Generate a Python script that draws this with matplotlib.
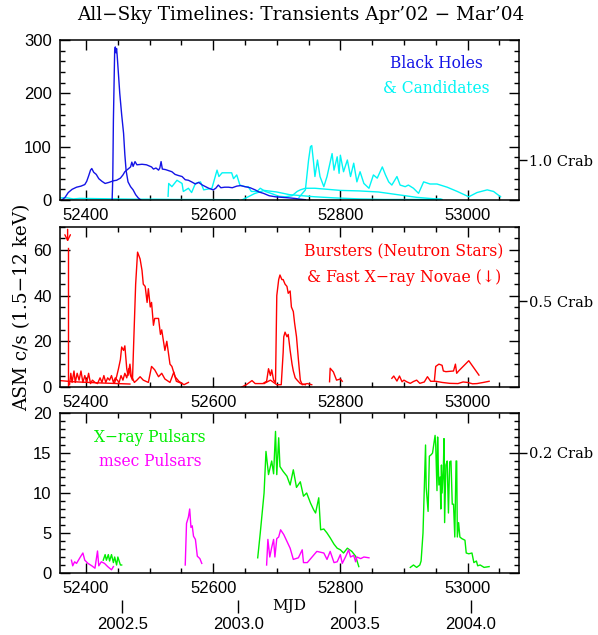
import numpy as np
import matplotlib.pyplot as plt
from matplotlib.ticker import MultipleLocator

# ---- black holes & candidates (top panel), MJD / ASM c/s
bh1_t = [52362, 52367, 52372, 52378, 52385, 52392, 52398, 52401, 52404, 52407, 52409, 52412,
         52416, 52420, 52425, 52430, 52436, 52443, 52448, 52454, 52458, 52461, 52466, 52470,
         52472, 52474, 52477, 52480, 52488, 52495, 52503, 52506, 52510, 52514, 52516, 52518,
         52520, 52525, 52530, 52535, 52540, 52545, 52551, 52556, 52561, 52566, 52572, 52577,
         52583, 52588, 52593, 52600, 52604, 52608, 52612, 52618, 52624, 52630, 52637, 52643,
         52650, 52658, 52666, 52672, 52679, 52688, 52698, 52708, 52719, 52728, 52737, 52745]
bh1_v = [0, 5, 14, 20, 24, 26, 29, 35, 45, 56, 59, 52,
         48, 40, 35, 31, 33, 36, 37, 41, 47, 53, 58, 62,
         71, 63, 72, 66, 67, 66, 62, 58, 60, 56, 60, 72,
         58, 57, 55, 53, 48, 46, 44, 38, 37, 34, 30, 33,
         28, 25, 22, 19, 22, 28, 23, 24, 24, 23, 26, 27,
         25, 23, 19, 15, 12.5, 8, 6, 5, 4, 3, 1.5, 0.5]

bh2_t = [52441, 52442, 52443, 52445, 52446, 52447, 52448, 52449, 52451, 52453, 52456, 52459,
         52461, 52463, 52466, 52470, 52474, 52478, 52482, 52486]
bh2_v = [0, 40, 150, 280, 287, 276, 284, 270, 235, 200, 160, 125,
         85, 55, 34, 25, 19, 10, 4, 0]

cand0_t = [52360, 52370, 52380, 52390, 52420, 52450, 52480, 52510, 52540, 52570, 52600, 52640]
cand0_v = [4, 4, 2, 3, 2.5, 2, 1.5, 1.5, 1, 1, 0.8, 0.5]

cand1_t = [52529, 52530, 52535, 52543, 52551, 52553, 52561, 52566, 52572, 52580, 52585, 52598,
           52606, 52609, 52614, 52629, 52632, 52637, 52642, 52650, 52655, 52660, 52669, 52674,
           52682, 52692, 52703, 52713, 52724, 52732, 52737, 52745, 52760, 52780, 52800, 52830,
           52860, 52890, 52920, 52950, 52958]
cand1_v = [7, 31, 25, 37, 31, 16, 22, 14, 31, 34, 19, 22,
           56, 44, 51, 51, 40, 47, 28, 25, 25, 16, 16, 22,
           16, 12, 7, 6, 8, 16, 19, 22, 22, 20, 18, 17,
           15, 10, 5, 2, 2]

cand2_t = [52645, 52655, 52665, 52680, 52700, 52720, 52740, 52760, 52790, 52830, 52870, 52920, 52960]
cand2_v = [0, 6, 12, 18, 15, 10, 8, 6, 4, 2, 1, 1, 1]

cand3_t = [52735, 52745, 52750, 52753, 52755, 52758, 52760, 52764, 52768, 52774, 52779, 52787,
           52790, 52795, 52798, 52800, 52805, 52811, 52816, 52821, 52826, 52831, 52837, 52845,
           52852, 52858, 52866, 52871, 52876, 52881, 52889, 52894, 52902, 52907, 52915, 52923,
           52931, 52941, 52952, 52968, 52984, 53002, 53015, 53031, 53041, 53052]
cand3_v = [5, 19, 75, 100, 102, 69, 44, 75, 44, 25, 44, 87,
           56, 81, 50, 84, 53, 75, 44, 69, 34, 53, 31, 22,
           47, 41, 62, 47, 34, 28, 44, 28, 25, 28, 22, 12.5,
           34, 30, 30, 24, 16, 6, 14, 19, 16, 6]

# ---- bursters & fast novae (middle panel)
nova_t = [52371, 52371]
nova_v = [0, 61]

ns_low_t = [52359, 52380, 52420, 52469]
ns_low_v = [2.8, 2.3, 1.8, 1.3]

ns1_t = [52374, 52376, 52378, 52381, 52383, 52386, 52389, 52392, 52395, 52398, 52401, 52404,
         52407, 52410, 52414, 52418, 52422, 52425, 52428, 52431, 52434, 52437, 52440, 52443,
         52446, 52449, 52452, 52455, 52458, 52461, 52464, 52467, 52470, 52473, 52475, 52478,
         52481, 52485, 52488, 52490, 52493, 52496, 52498, 52501, 52503, 52506, 52508, 52514,
         52517, 52519, 52524, 52527, 52532, 52535, 52540, 52546, 52554, 52561]
ns1_v = [1, 6, 2, 7, 2, 6, 3, 7, 2, 5, 2, 6,
         1.5, 3, 2, 1.5, 4, 2, 5, 2, 4, 3, 5, 2,
         4, 3, 2, 5, 3, 6, 4, 8, 5, 3, 20, 45,
         59, 56, 51, 45, 44, 37, 43, 35, 37, 27, 30, 30,
         23, 25, 16, 20, 10, 9, 4.5, 2.5, 1, 2]

ns2_t = [52445, 52448, 52451, 52454, 52456, 52459, 52461, 52464, 52466, 52469, 52471, 52476,
         52480, 52485, 52490, 52498, 52503, 52508, 52514, 52519, 52524, 52532, 52538, 52542,
         52551]
ns2_v = [2, 4.5, 8, 12, 17.5, 16, 18, 8, 5, 10, 5, 2,
         3, 4.5, 3, 2, 9, 7.5, 4.5, 6, 3.5, 2, 6.5, 2.5,
         1.5]

ns3_t = [52645, 52652, 52661, 52666, 52671, 52678, 52684, 52687, 52690, 52692, 52695, 52698,
         52700, 52703, 52705, 52708, 52710, 52713, 52716, 52718, 52721, 52723, 52726, 52728,
         52731, 52734, 52737, 52740, 52748, 52755]
ns3_v = [0, 1, 2.8, 1.5, 1.5, 1.5, 2.5, 8, 5, 7.5, 3, 2,
         40, 47, 49, 47, 47, 45, 44, 41, 42, 35, 33, 28,
         22, 12, 3, 1, 1.5, 1]

ns4_t = [52680, 52690, 52700, 52707, 52710, 52711, 52713, 52716, 52718, 52721, 52724, 52726,
         52729, 52732, 52737, 52745]
ns4_v = [1.5, 3, 1, 1, 15, 22, 24, 22, 23, 16, 10, 7,
         4, 3, 1.5, 1]

ns5_t = [52783, 52784, 52789, 52794, 52800, 52803]
ns5_v = [2.3, 8.2, 6.6, 3, 3.5, 2.5]

ns6_t = [52881, 52884, 52889, 52893, 52897, 52900, 52905, 52910, 52915, 52920, 52925, 52932,
         52937, 52942, 52950, 52960, 52972, 52985, 52993, 53000, 53008, 53015, 53025, 53034]
ns6_v = [3.8, 4.8, 2.6, 4.8, 2.3, 3, 2.2, 1.6, 2.4, 3, 1.6, 2.2,
         4.5, 2.5, 2.5, 2, 1.6, 1.5, 2.2, 2, 1.4, 1.5, 2, 2.5]

ns7_t = [52948, 52950, 52955, 52960, 52962, 52966, 52978, 52981, 52983, 52986, 53002, 53018]
ns7_v = [3, 9, 10, 9.5, 7, 6.7, 7, 10, 6, 7, 11.5, 5.2]

# ---- x-ray pulsars (green) and msec pulsars (magenta), bottom panel
xp1_t = [52427, 52430, 52432, 52435, 52437, 52440, 52443, 52445, 52448, 52450, 52454, 52456]
xp1_v = [1.6, 2.3, 1.6, 2.3, 1.5, 2.3, 1.3, 2, 1, 2, 1, 1]

xp2_t = [52670, 52674, 52680, 52683, 52687, 52692, 52695, 52698, 52700, 52703, 52705, 52710,
         52716, 52721, 52726, 52731, 52737, 52742, 52747, 52753, 52758, 52761, 52766, 52769,
         52774, 52779, 52784, 52790, 52795, 52800, 52805, 52811, 52818, 52824, 52829]
xp2_v = [1.9, 5, 10, 15.2, 12.3, 14, 12.4, 17.7, 12.3, 16.9, 13.3, 12.7,
         12.1, 11, 12.9, 10.7, 11.4, 9.6, 10, 8.75, 7.9, 7.5, 9.4, 5.4,
         5.5, 5, 4.4, 3.6, 3.1, 2.9, 2.5, 3.1, 2.7, 2.1, 0.8]

xp3_t = [52910, 52915, 52920, 52925, 52927, 52930, 52934, 52935, 52938, 52940, 52943, 52945,
         52949, 52950, 52952, 52953, 52954, 52955, 52957, 52958, 52959, 52960, 52962, 52963,
         52964, 52966, 52968, 52970, 52972, 52974, 52976, 52978, 52980, 52982, 52983, 52984,
         52986, 52988, 52991, 52996, 52998, 53002, 53007, 53010, 53014, 53016, 53020, 53026,
         53034]
xp3_v = [0.7, 1, 0.7, 1, 1.5, 5, 16, 10.7, 7.7, 14.6, 14.8, 15,
         17.2, 16, 10.3, 17, 13.4, 11, 12, 8, 13.5, 10, 12.9, 16.8,
         6.3, 13.5, 14, 7.5, 13.9, 14, 8.6, 8.6, 4.5, 14, 14, 4.5,
         6.3, 4.5, 4.3, 4.1, 2.5, 2.4, 2.5, 1.3, 1.5, 0.9, 1, 0.7,
         0.8]

ms1_t = [52377, 52379, 52382, 52385, 52391, 52395, 52398, 52403, 52409, 52414, 52418, 52420,
         52424, 52429, 52434, 52440, 52443]
ms1_v = [1.6, 0.9, 1.4, 1.2, 2, 2.5, 1.6, 1.2, 0.9, 0.6, 2.75, 0.9,
         1.4, 1.2, 0.8, 0.4, 0.8]

ms2_t = [52556, 52558, 52561, 52563, 52565, 52567, 52569, 52572, 52575, 52579, 52582]
ms2_v = [1, 6.2, 7, 8, 5.7, 5.9, 4.6, 4.2, 2.1, 1.8, 1.2]

ms3_t = [52684, 52686, 52689, 52692, 52695, 52697, 52700, 52703, 52706, 52711, 52721, 52726,
         52734, 52740, 52742, 52748, 52763, 52774, 52779, 52784, 52790, 52795, 52800, 52803,
         52808, 52813, 52816, 52821, 52824, 52826, 52832, 52837, 52845]
ms3_v = [1, 4.2, 2, 3.2, 4.2, 2, 4.3, 4.5, 5.4, 4.8, 3.1, 1.7,
         1.9, 2.9, 1.3, 1.3, 2.7, 2.5, 1.7, 2.7, 1.3, 1.4, 2.3, 1.2,
         2, 2.9, 2, 2.2, 1.4, 2, 1.8, 2, 1.9]

crab_cps = 75.0
crab_marks = [1.0, 0.5, 0.2]
year_ticks = [2002.5, 2003.0, 2003.5, 2004.0]

BLUE = '#1414e6'
CYAN = '#00f5f5'
RED = '#ff0000'
GREEN = '#00ee00'
MAGENTA = '#ff00ff'

SANS = 'Liberation Sans'
SERIF = 'DejaVu Serif'


def mjd2yr(m):
    return 2000.0 + (np.asarray(m) - 51544.0) / 365.25


def yr2mjd(y):
    return 51544.0 + (np.asarray(y) - 2000.0) * 365.25


def style_axes(ax, ymax, ymajor, yminor, crab):
    ax.set_xlim(52359, 53081)
    ax.set_ylim(0, ymax)
    ax.xaxis.set_major_locator(MultipleLocator(200))
    ax.xaxis.set_minor_locator(MultipleLocator(50))
    ax.yaxis.set_major_locator(MultipleLocator(ymajor))
    ax.yaxis.set_minor_locator(MultipleLocator(yminor))
    ax.tick_params(which='both', direction='in', top=True, right=True, width=1.0)
    ax.tick_params(which='major', length=7, labelsize=12, pad=6)
    ax.tick_params(which='minor', length=3.5)
    for lab in ax.get_xticklabels() + ax.get_yticklabels():
        lab.set_fontfamily(SANS)
    for sp in ax.spines.values():
        sp.set_linewidth(1.1)
    sec = ax.secondary_yaxis('right', functions=(lambda v: v / crab_cps, lambda c: c * crab_cps))
    sec.set_yticks([crab])
    sec.set_yticklabels(['%.1f Crab' % crab], fontfamily=SERIF, fontsize=10.5)
    sec.tick_params(direction='out', length=6, width=1.0, pad=1)
    sec.spines['right'].set_visible(False)


fig = plt.figure(figsize=(5.98, 6.35), dpi=100)
W = 459 / 598
H = 160 / 635
L = 60 / 598
ax1 = fig.add_axes([L, 435 / 635, W, H])
ax2 = fig.add_axes([L, 248 / 635, W, H])
ax3 = fig.add_axes([L, 62 / 635, W, H])

lw = 1.0
# top
ax1.plot(cand0_t, cand0_v, color=CYAN, lw=lw)
ax1.plot(cand1_t, cand1_v, color=CYAN, lw=lw)
ax1.plot(cand2_t, cand2_v, color=CYAN, lw=lw)
ax1.plot(cand3_t, cand3_v, color=CYAN, lw=lw)
ax1.plot(bh1_t, bh1_v, color=BLUE, lw=lw)
ax1.plot(bh2_t, bh2_v, color=BLUE, lw=lw)
style_axes(ax1, 300, 100, 20, crab_marks[0])
ax1.text(0.819, 0.85, 'Black Holes', color=BLUE, transform=ax1.transAxes,
         ha='center', va='center', fontsize=11.2, fontfamily=SERIF)
ax1.text(0.819, 0.694, '& Candidates', color=CYAN, transform=ax1.transAxes,
         ha='center', va='center', fontsize=11.2, fontfamily=SERIF)

# middle
for t, v in [(ns_low_t, ns_low_v), (ns1_t, ns1_v), (ns2_t, ns2_v), (ns3_t, ns3_v),
             (ns4_t, ns4_v), (ns5_t, ns5_v), (ns6_t, ns6_v), (ns7_t, ns7_v), (nova_t, nova_v)]:
    ax2.plot(t, v, color=RED, lw=lw)
ax2.annotate('', xy=(nova_t[-1], nova_v[-1] + 2.5), xytext=(nova_t[-1], nova_v[-1] + 8),
             arrowprops=dict(arrowstyle='->', color=RED, lw=1.0, shrinkA=0, shrinkB=0))
style_axes(ax2, 70, 20, 5, crab_marks[1])
ax2.text(0.749, 0.844, 'Bursters (Neutron Stars)', color=RED, transform=ax2.transAxes,
         ha='center', va='center', fontsize=11.3, fontfamily=SERIF)
ax2.text(0.749, 0.6875, '& Fast X\u2212ray Novae (\u2193)', color=RED, transform=ax2.transAxes,
         ha='center', va='center', fontsize=11.3, fontfamily=SERIF)
ax2.set_ylabel('ASM c/s (1.5\u221212 keV)', fontsize=13.3, fontfamily=SERIF, labelpad=1)

# bottom
ax3.plot(xp1_t, xp1_v, color=GREEN, lw=lw)
ax3.plot(xp2_t, xp2_v, color=GREEN, lw=lw)
ax3.plot(xp3_t, xp3_v, color=GREEN, lw=lw)
ax3.plot(ms1_t, ms1_v, color=MAGENTA, lw=lw)
ax3.plot(ms2_t, ms2_v, color=MAGENTA, lw=lw)
ax3.plot(ms3_t, ms3_v, color=MAGENTA, lw=lw)
style_axes(ax3, 20, 5, 1, crab_marks[2])
ax3.text(0.196, 0.844, 'X\u2212ray Pulsars', color=GREEN, transform=ax3.transAxes,
         ha='center', va='center', fontsize=11.2, fontfamily=SERIF)
ax3.text(0.196, 0.694, 'msec Pulsars', color=MAGENTA, transform=ax3.transAxes,
         ha='center', va='center', fontsize=11.2, fontfamily=SERIF)
ax3.set_xlabel('MJD', fontsize=11, fontfamily=SERIF, labelpad=2)

yr = ax3.secondary_xaxis(-27 / 160, functions=(mjd2yr, yr2mjd))
yr.set_xticks(year_ticks)
yr.set_xticklabels(['%.1f' % y for y in year_ticks], fontfamily=SANS, fontsize=12)
yr.tick_params(direction='out', length=9.5, width=1.0, pad=3)
yr.spines['bottom'].set_visible(False)

fig.text(0.503, 1 - 15 / 635, 'All\u2212Sky Timelines: Transients Apr\u201902 \u2212 Mar\u201904',
         ha='center', va='center', fontsize=13.3, fontfamily=SERIF)

fig.savefig('out.png', dpi=100)
